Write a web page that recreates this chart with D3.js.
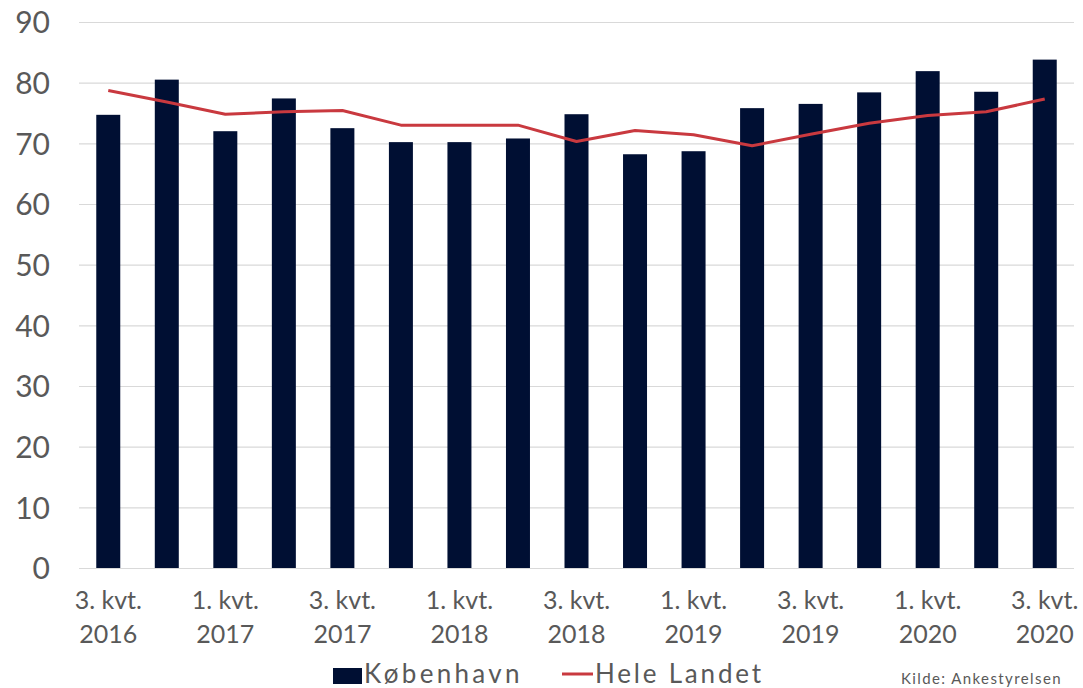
<!DOCTYPE html>
<html>
<head>
<meta charset="utf-8">
<script src="https://cdn.jsdelivr.net/npm/d3@7"></script>
<style>
  body { margin: 0; background: #fff; }
  text { font-family: Lato, "Open Sans", sans-serif; fill: #595959; }
</style>
</head>
<body>
<div id="chart"></div>
<script>
'use strict';

const width = 1083,
    height = 688,
    margin = {top: 22, bottom: 120, right: 9, left: 79};

// kvartaler
const quarters = ["3. kvt. 2016", "4. kvt. 2016", "1. kvt. 2017", "2. kvt. 2017", "3. kvt. 2017", "4. kvt. 2017",
    "1. kvt. 2018", "2. kvt. 2018", "3. kvt. 2018", "4. kvt. 2018", "1. kvt. 2019", "2. kvt. 2019",
    "3. kvt. 2019", "4. kvt. 2019", "1. kvt. 2020", "2. kvt. 2020", "3. kvt. 2020"];
const kobenhavn = [74.7, 80.5, 72.0, 77.4, 72.5, 70.2, 70.2, 70.8, 74.8, 68.2, 68.7, 75.8, 76.5, 78.4, 81.9, 78.5, 83.8];
const heleLandet = [78.7, 76.8, 74.8, 75.2, 75.4, 73.0, 73.0, 73.0, 70.3, 72.1, 71.4, 69.6, 71.5, 73.3, 74.6, 75.2, 77.3];
const yTicks = [0, 10, 20, 30, 40, 50, 60, 70, 80, 90];

const barColor = "#000f33",
    lineColor = "#c9393f";

const svg = d3.select("#chart")
    .append("svg")
    .attr("width", width)
    .attr("height", height);

const xScale = d3.scaleBand()
    .domain(quarters)
    .range([margin.left, width - margin.right])
    .paddingInner(0.59)
    .paddingOuter(0.295);

const yScale = d3.scaleLinear()
    .domain([0, 90])
    .range([height - margin.bottom, margin.top]);

// gitterlinjer + y-akse
const yAxis = d3.axisLeft(yScale)
    .tickValues(yTicks)
    .tickSize(-(width - margin.left - margin.right))
    .tickPadding(29);

svg.append("g")
    .attr("class", "y-axis")
    .attr("transform", `translate(${margin.left},0)`)
    .call(yAxis)
    .call(g => g.select(".domain").remove())
    .call(g => g.selectAll("line").attr("stroke", "#d9d9d9").attr("stroke-width", 1.2))
    .call(g => g.selectAll("text")
        .style("font-size", "30px")
        .attr("fill", "#595959")
        .attr("dy", "0.36em"));

// søjler
svg.selectAll(".bar")
    .data(kobenhavn)
    .join("rect")
    .attr("class", "bar")
    .attr("x", (d, i) => xScale(quarters[i]))
    .attr("width", xScale.bandwidth())
    .attr("y", d => yScale(d))
    .attr("height", d => yScale(0) - yScale(d))
    .attr("fill", barColor);

// linje
const line = d3.line()
    .x((d, i) => xScale(quarters[i]) + xScale.bandwidth() / 2)
    .y(d => yScale(d));

svg.append("path")
    .datum(heleLandet)
    .attr("fill", "none")
    .attr("stroke", lineColor)
    .attr("stroke-width", 3)
    .attr("stroke-linejoin", "round")
    .attr("d", line);

// x-akse etiketter (hver anden)
const xAxis = d3.axisBottom(xScale)
    .tickValues(quarters.filter((d, i) => i % 2 === 0))
    .tickSize(0)
    .tickFormat("");

const gx = svg.append("g")
    .attr("class", "x-axis")
    .attr("transform", `translate(0,${yScale(0)})`)
    .call(xAxis)
    .call(g => g.select(".domain").remove());

gx.selectAll(".tick").each(function(d) {
    const parts = d.split(" ");
    const t = d3.select(this).append("text")
        .attr("text-anchor", "middle")
        .style("font-size", "25px")
        .attr("fill", "#595959");
    t.append("tspan").attr("x", 0).attr("y", 41).text(parts[0] + " " + parts[1]);
    t.append("tspan").attr("x", 0).attr("y", 75).text(parts[2]);
});

// legende
const legend = svg.append("g");
legend.append("rect")
    .attr("x", 333).attr("y", 668)
    .attr("width", 29).attr("height", 16)
    .attr("fill", barColor);
legend.append("text")
    .attr("x", 364).attr("y", 683)
    .style("font-size", "26px")
    .style("letter-spacing", "3.3px")
    .text("København");
legend.append("line")
    .attr("x1", 562).attr("x2", 593)
    .attr("y1", 674).attr("y2", 674)
    .attr("stroke", lineColor)
    .attr("stroke-width", 3);
legend.append("text")
    .attr("x", 595).attr("y", 683)
    .style("font-size", "26px")
    .style("letter-spacing", "2.8px")
    .text("Hele Landet");

svg.append("text")
    .attr("x", 1062).attr("y", 684)
    .attr("text-anchor", "end")
    .style("font-size", "15px")
    .style("letter-spacing", "1.4px")
    .text("Kilde: Ankestyrelsen");
</script>
</body>
</html>
